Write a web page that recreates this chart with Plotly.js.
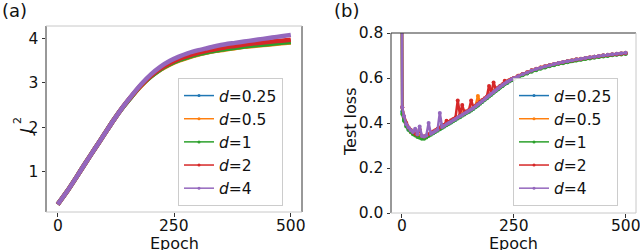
<!DOCTYPE html>
<html><head><meta charset="utf-8">
<script src="https://cdn.plot.ly/plotly-3.0.1.min.js"></script>
<style>html,body{margin:0;padding:0;background:#fff}#chart{width:640px;height:251px}</style>
</head><body><div id="chart"></div>
<script>
const seriesNames = ['<i>d</i>=0.25', '<i>d</i>=0.5', '<i>d</i>=1', '<i>d</i>=2', '<i>d</i>=4'];
const colors = ['#1f77b4', '#ff7f0e', '#2ca02c', '#d62728', '#9467bd'];

// Panel (a): J^2 vs epoch
const epochsA = [0,20,40,60,80,100,120,140,160,180,200,220,240,260,280,300,320,340,360,380,400,420,440,460,480,500];
const jA_025 = [0.26,0.55,0.87,1.2,1.52,1.84,2.16,2.45,2.71,2.95,3.15,3.3,3.42,3.51,3.58,3.64,3.69,3.73,3.77,3.8,3.83,3.85,3.87,3.89,3.91,3.93];
const jA_05  = [0.26,0.55,0.87,1.2,1.52,1.84,2.16,2.45,2.71,2.94,3.14,3.29,3.41,3.5,3.57,3.63,3.68,3.72,3.75,3.78,3.81,3.83,3.85,3.87,3.89,3.91];
const jA_1   = [0.26,0.55,0.87,1.2,1.52,1.84,2.16,2.45,2.71,2.95,3.14,3.3,3.42,3.51,3.58,3.64,3.69,3.73,3.76,3.79,3.82,3.84,3.86,3.88,3.9,3.92];
const jA_2   = [0.26,0.55,0.87,1.2,1.52,1.84,2.16,2.46,2.72,2.96,3.16,3.32,3.44,3.54,3.61,3.67,3.72,3.76,3.8,3.83,3.86,3.89,3.91,3.93,3.95,3.97];
const jA_4   = [0.26,0.55,0.87,1.2,1.52,1.84,2.16,2.46,2.73,2.98,3.19,3.36,3.49,3.59,3.67,3.73,3.78,3.83,3.87,3.9,3.93,3.96,3.99,4.02,4.05,4.08];

// Panel (b): test loss vs epoch
const epochsB = [0,1,
  5,10,15,20,25,30,35,40,45,50,
  55,60,65,70,75,80,85,90,95,100,
  105,110,115,120,125,130,135,140,145,150,
  155,160,165,170,175,180,185,190,195,200,
  205,210,215,220,225,230,235,240,245,250,
  260,270,280,290,300,310,320,330,340,350,
  360,370,380,390,400,410,420,430,440,450,
  460,470,480,490,500];
const lossB_025 = [1.15,0.45,
  0.415,0.392,0.37,0.362,0.357,0.347,0.343,0.341,0.336,0.339,
  0.338,0.347,0.352,0.354,0.365,0.37,0.372,0.392,0.384,0.394,
  0.4,0.402,0.413,0.414,0.425,0.427,0.437,0.439,0.449,0.45,
  0.46,0.463,0.476,0.478,0.49,0.494,0.507,0.51,0.523,0.527,
  0.538,0.55,0.55,0.563,0.565,0.576,0.578,0.588,0.59,0.599,
  0.604,0.617,0.621,0.633,0.636,0.646,0.648,0.657,0.658,0.666,
  0.668,0.674,0.676,0.682,0.683,0.688,0.689,0.694,0.695,0.7,
  0.7,0.705,0.705,0.709,0.709];
const lossB_05 = [1.25,0.47,
  0.425,0.395,0.38,0.36,0.358,0.352,0.348,0.342,0.34,0.336,
  0.343,0.348,0.352,0.36,0.365,0.372,0.376,0.384,0.39,0.396,
  0.401,0.408,0.412,0.42,0.425,0.433,0.436,0.452,0.448,0.456,
  0.462,0.468,0.476,0.52,0.492,0.5,0.506,0.516,0.524,0.532,
  0.54,0.548,0.556,0.563,0.57,0.578,0.584,0.59,0.596,0.6,
  0.61,0.618,0.626,0.634,0.64,0.647,0.652,0.657,0.662,0.667,
  0.671,0.675,0.679,0.683,0.686,0.689,0.692,0.695,0.698,0.701,
  0.703,0.706,0.708,0.71,0.712];
const lossB_1 = [1.1,0.44,
  0.41,0.385,0.37,0.36,0.35,0.344,0.338,0.334,0.33,0.33,
  0.336,0.342,0.348,0.354,0.36,0.366,0.372,0.378,0.384,0.39,
  0.396,0.402,0.408,0.414,0.42,0.426,0.432,0.438,0.444,0.45,
  0.456,0.463,0.47,0.478,0.486,0.494,0.502,0.51,0.518,0.526,
  0.534,0.542,0.55,0.558,0.565,0.572,0.578,0.584,0.59,0.595,
  0.603,0.612,0.62,0.628,0.635,0.641,0.647,0.652,0.657,0.662,
  0.666,0.67,0.674,0.678,0.681,0.684,0.687,0.69,0.693,0.696,
  0.698,0.701,0.703,0.705,0.707];
const lossB_2 = [1.3,0.47,
  0.43,0.4,0.38,0.37,0.36,0.352,0.348,0.372,0.342,0.34,
  0.345,0.35,0.356,0.362,0.368,0.374,0.38,0.386,0.392,0.41,
  0.405,0.412,0.418,0.424,0.5,0.436,0.48,0.446,0.452,0.458,
  0.5,0.47,0.478,0.486,0.494,0.502,0.51,0.518,0.565,0.536,
  0.58,0.55,0.558,0.566,0.572,0.588,0.585,0.59,0.596,0.6,
  0.61,0.618,0.626,0.634,0.641,0.647,0.652,0.657,0.662,0.666,
  0.67,0.674,0.678,0.682,0.685,0.688,0.691,0.694,0.697,0.7,
  0.702,0.704,0.706,0.708,0.71];
const lossB_4 = [1.4,0.47,
  0.43,0.395,0.38,0.368,0.36,0.375,0.35,0.385,0.342,0.34,
  0.345,0.4,0.352,0.358,0.364,0.37,0.445,0.382,0.388,0.394,
  0.4,0.406,0.412,0.418,0.424,0.43,0.436,0.442,0.448,0.454,
  0.46,0.467,0.474,0.482,0.49,0.498,0.506,0.514,0.522,0.53,
  0.538,0.546,0.554,0.562,0.569,0.576,0.582,0.588,0.594,0.599,
  0.608,0.617,0.625,0.633,0.64,0.646,0.652,0.657,0.662,0.667,
  0.671,0.675,0.679,0.683,0.686,0.689,0.692,0.695,0.698,0.701,
  0.703,0.706,0.708,0.71,0.712];

const xTicks = [0, 250, 500];
const xTickText = ['0', '250', '500'];
const yTicksA = [1, 2, 3, 4];
const yTicksB = [0.0, 0.2, 0.4, 0.6, 0.8];
const yTickTextB = ['0.0', '0.2', '0.4', '0.6', '0.8'];

const seriesA = [jA_025, jA_05, jA_1, jA_2, jA_4];
const seriesB = [lossB_025, lossB_05, lossB_1, lossB_2, lossB_4];

const FONT = 'DejaVu Sans, Verdana, sans-serif';
const traces = [];
seriesA.forEach((ys, i) => traces.push({
  x: epochsA, y: ys, xaxis: 'x', yaxis: 'y', type: 'scatter', mode: 'lines',
  line: {color: colors[i], width: 4.5, shape: 'spline', smoothing: 0.6}, showlegend: false, hoverinfo: 'skip'
}));
seriesB.forEach((ys, i) => traces.push({
  x: epochsB, y: ys, xaxis: 'x2', yaxis: 'y2', type: 'scatter', mode: 'lines+markers',
  line: {color: colors[i], width: 2.5}, marker: {color: colors[i], size: 4}, showlegend: false, hoverinfo: 'skip'
}));
// legend entries
['legend', 'legend2'].forEach((lg, k) => {
  seriesNames.forEach((nm, i) => traces.push({
    x: [null], y: [null], xaxis: k ? 'x2' : 'x', yaxis: k ? 'y2' : 'y', type: 'scatter', mode: 'lines+markers',
    name: nm, legend: lg, legendgroup: lg + i, showlegend: true,
    line: {color: colors[i], width: 1.5}, marker: {color: colors[i], size: 3}
  }));
});

const W = 640, H = 251;
const pa = {l: 46, r: 302, t: 26, b: 212};
const pb = {l: 391, r: 636, t: 33, b: 213};
const dx = p => [p.l / W, p.r / W];
const dy = p => [1 - p.b / H, 1 - p.t / H];

const axisCommon = {
  showgrid: false, zeroline: false, showline: false, ticks: 'outside', ticklen: 3.5, tickwidth: 1,
  tickcolor: '#333', tickfont: {family: FONT, size: 15.5, color: '#111'}, fixedrange: true,
  ticklabeloverflow: 'allow'
};

function spine(xr, yr, x0, y0, x1, y1, color) {
  return {type: 'line', xref: xr + ' domain', yref: yr + ' domain', x0, y0, x1, y1,
          line: {color, width: 1}, layer: 'above'};
}
const dark = '#333', light = '#c8c8c8';
const shapes = [
  spine('x', 'y', 0, 0, 0, 1, dark), spine('x', 'y', 1, 0, 1, 1, dark),
  spine('x', 'y', 0, 1, 1, 1, light), spine('x', 'y', 0, 0, 1, 0, light),
  spine('x2', 'y2', 0, 0, 0, 1, dark), spine('x2', 'y2', 0, 1, 1, 1, dark),
  spine('x2', 'y2', 1, 0, 1, 1, light), spine('x2', 'y2', 0, 0, 1, 0, light)
];

const legendCommon = {
  xanchor: 'left', yanchor: 'top', bgcolor: 'rgba(255,255,255,0.85)', bordercolor: '#cccccc', borderwidth: 1,
  font: {family: FONT, size: 15.5, color: '#111'}, traceorder: 'grouped', tracegroupgap: 0, itemwidth: 30
};

const ann = (text, xpx, ypx, opts) => Object.assign({
  text, x: xpx / W, y: 1 - ypx / H, xref: 'paper', yref: 'paper', showarrow: false,
  xanchor: 'center', yanchor: 'middle', font: {family: FONT, size: 16, color: '#111'}
}, opts || {});

// x tick labels placed through the axes' own scales
const tickAnns = [];
['x', 'x2'].forEach(ax => xTicks.forEach((v, j) => tickAnns.push({
  text: xTickText[j], x: v, xref: ax, y: 1 - 225.5 / H, yref: 'paper', showarrow: false,
  xanchor: 'center', yanchor: 'middle', height: 13, valign: 'middle',
  font: {family: FONT, size: 15.5, color: '#111'}
})));

const layout = {
  width: W, height: H, margin: {l: 0, r: 0, t: 0, b: 0},
  paper_bgcolor: '#fff', plot_bgcolor: '#fff',
  xaxis: Object.assign({}, axisCommon, {domain: dx(pa), range: [-25, 524], tickvals: xTicks, anchor: 'y', showticklabels: false}),
  yaxis: Object.assign({}, axisCommon, {domain: dy(pa), range: [0.09, 4.28], tickvals: yTicksA, anchor: 'x'}),
  xaxis2: Object.assign({}, axisCommon, {domain: dx(pb), range: [-24, 523], tickvals: xTicks, anchor: 'y2', showticklabels: false}),
  yaxis2: Object.assign({}, axisCommon, {domain: dy(pb), range: [0, 0.8], tickvals: yTicksB, ticktext: yTickTextB, anchor: 'x2'}),
  legend: Object.assign({}, legendCommon, {x: 178 / W, y: 1 - 78 / H}),
  legend2: Object.assign({}, legendCommon, {x: 513 / W, y: 1 - 78 / H}),
  shapes,
  annotations: tickAnns.concat([
    ann('(a)', 0, 11, {xanchor: 'left', font: {family: FONT, size: 18, color: '#111'}}),
    ann('(b)', 332, 11, {xanchor: 'left', font: {family: FONT, size: 18, color: '#111'}}),
    ann('Epoch', 174, 243, {height: 14, valign: 'middle'}),
    ann('Epoch', 513, 243, {height: 14, valign: 'middle'}),
    ann('<i>J</i>', 26, 132, {textangle: -90, font: {family: FONT, size: 16, color: '#111'}}),
    ann('2', 17, 121, {textangle: -90, font: {family: FONT, size: 11, color: '#111'}}),
    ann('Test loss', 350, 122, {textangle: -90})
  ]),
  showlegend: true
};

Plotly.newPlot('chart', traces, layout, {staticPlot: true, displayModeBar: false});
</script></body></html>
